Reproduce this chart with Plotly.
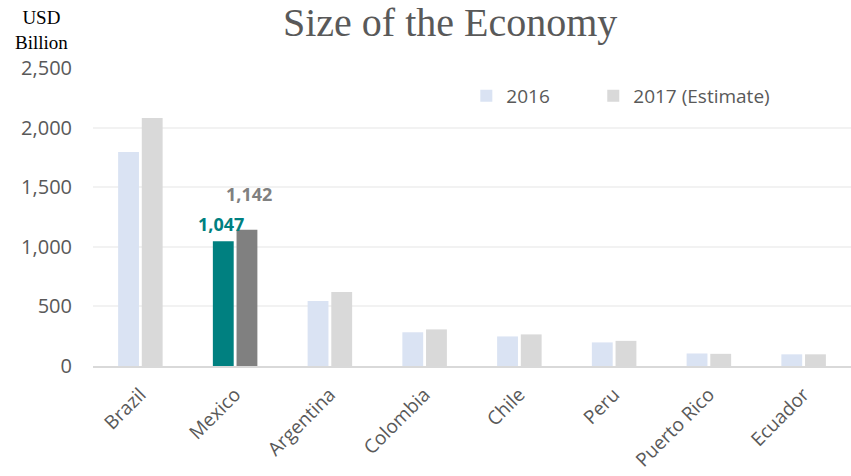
import plotly.graph_objects as go

countries = ["Brazil", "Mexico", "Argentina", "Colombia", "Chile", "Peru", "Puerto Rico", "Ecuador"]
gdp_2016 = [1796, 1047, 545, 283, 248, 198, 105, 98]
gdp_2017 = [2081, 1142, 620, 307, 265, 211, 102, 98]
y_ticks = [0, 500, 1000, 1500, 2000, 2500]

light_2016 = "#DAE3F3"
light_2017 = "#D9D9D9"
hi_2016 = "#008080"
hi_2017 = "#808080"
focus = "Mexico"

colors_2016 = [hi_2016 if c == focus else light_2016 for c in countries]
colors_2017 = [hi_2017 if c == focus else light_2017 for c in countries]

fig = go.Figure()
fig.add_trace(go.Bar(x=countries, y=gdp_2016, name="2016", legend="legend",
                     marker=dict(color=colors_2016, line=dict(width=0))))
fig.add_trace(go.Bar(x=countries, y=gdp_2017, name="2017 (Estimate)", legend="legend2",
                     marker=dict(color=colors_2017, line=dict(width=0))))

i = countries.index(focus)
fig.add_annotation(x=focus, y=gdp_2016[i], text=f"<b>{gdp_2016[i]:,}</b>", showarrow=False,
                   xshift=-14, yshift=17, font=dict(family="Open Sans", size=18, color=hi_2016))
fig.add_annotation(x=focus, y=gdp_2017[i], text=f"<b>{gdp_2017[i]:,}</b>", showarrow=False,
                   xshift=14, yshift=36, font=dict(family="Open Sans", size=18, color=hi_2017))

fig.add_annotation(xref="paper", yref="paper", x=-0.0686, y=1.212, xanchor="center", yanchor="top",
                   text="USD<br>Billion", showarrow=False, align="center",
                   font=dict(family="Liberation Serif", size=19, color="#000000"))

legend_style = dict(orientation="h", y=0.97, xanchor="left", yanchor="top",
                    font=dict(family="Open Sans", size=19, color="#595959"),
                    itemwidth=30, bgcolor="rgba(0,0,0,0)")

fig.update_layout(
    width=851, height=476,
    margin=dict(l=93, r=0, t=68, b=110, autoexpand=False),
    paper_bgcolor="white", plot_bgcolor="white",
    title=dict(text="Size of the Economy", x=0.529, xanchor="center", y=0.953, yanchor="middle",
               font=dict(family="Liberation Serif", size=40, color="#595959")),
    barmode="group", bargap=0.5, bargroupgap=0.12,
    showlegend=True,
    legend=dict(x=0.4925, **legend_style),
    legend2=dict(x=0.660, **legend_style),
    xaxis=dict(tickangle=-45, tickfont=dict(family="Open Sans", size=19, color="#595959"),
               showline=True, linecolor="#D9D9D9", linewidth=2, ticks="",
               ticklabelstandoff=8, automargin=False),
    yaxis=dict(range=[0, 2500], tickvals=y_ticks, tickformat=",",
               tickfont=dict(family="Open Sans", size=20, color="#595959"),
               gridcolor="#F2F2F2", gridwidth=1.5, zeroline=False, ticks="",
               ticklabelstandoff=20, automargin=False),
)

fig.write_html("out.html")
